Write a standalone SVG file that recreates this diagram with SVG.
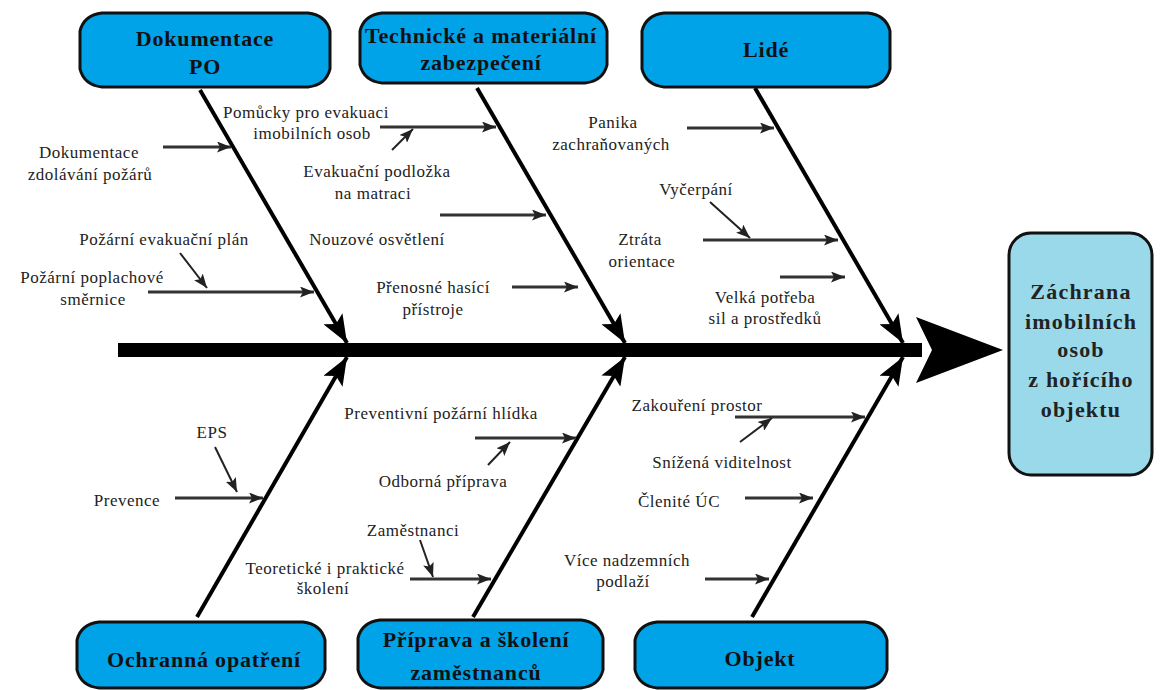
<svg xmlns="http://www.w3.org/2000/svg" width="1160" height="690" viewBox="0 0 1160 690" font-family="Liberation Serif, serif">
<defs>
<style>
.box{fill:#00a2e8;stroke:#111;stroke-width:3;stroke-linejoin:round}
.goal{fill:#99d9ea;stroke:#111;stroke-width:3}
.bt{font-weight:bold;font-size:22px;fill:#111;text-anchor:middle;letter-spacing:0.8px}
.gt{font-weight:bold;font-size:22px;fill:#222;text-anchor:middle;letter-spacing:1.2px}
.lt{font-size:17px;fill:#222;text-anchor:middle;letter-spacing:0.5px}
.bone{stroke:#000;stroke-width:4;fill:none;marker-end:url(#big)}
.sub{stroke:#333;stroke-width:3;fill:none;marker-end:url(#small)}
.tiny{stroke:#222;stroke-width:2;fill:none;marker-end:url(#small)}
</style>
<marker id="big" markerUnits="userSpaceOnUse" markerWidth="30" markerHeight="22" refX="28" refY="11" orient="auto">
<path d="M0,0 L28,11 L0,22 L6,11 Z" fill="#000"/>
</marker>
<marker id="small" markerUnits="userSpaceOnUse" markerWidth="15" markerHeight="11" refX="14" refY="5.5" orient="auto">
<path d="M0,0 L14,5.5 L0,11 L3,5.5 Z" fill="#222"/>
</marker>
</defs>
<rect width="1160" height="690" fill="#fff"/>

<g id="connectors">
<line x1="118" y1="350" x2="922" y2="350" stroke="#000" stroke-width="14"/>
<polygon points="916,317 1003,350 916,383 932,350" fill="#000"/>
<line class="bone" x1="200" y1="90" x2="347" y2="343"/>
<line class="bone" x1="477" y1="88" x2="625" y2="343"/>
<line class="bone" x1="755" y1="88" x2="903" y2="343"/>
<line class="bone" x1="197" y1="617" x2="347" y2="357"/>
<line class="bone" x1="473" y1="617" x2="625" y2="357"/>
<line class="bone" x1="752" y1="617" x2="903" y2="357"/>
<line class="sub" x1="163" y1="147" x2="231" y2="147"/>
<line class="sub" x1="380" y1="127" x2="496" y2="127"/>
<line class="tiny" x1="392" y1="150" x2="413" y2="129"/>
<line class="sub" x1="440" y1="215" x2="546" y2="215"/>
<line class="sub" x1="512" y1="287" x2="578" y2="287"/>
<line class="tiny" x1="180" y1="253" x2="207" y2="288"/>
<line class="sub" x1="148" y1="292" x2="314" y2="292"/>
<line class="sub" x1="687" y1="128" x2="774" y2="128"/>
<line class="tiny" x1="710" y1="202" x2="750" y2="238"/>
<line class="sub" x1="703" y1="240" x2="838" y2="240"/>
<line class="sub" x1="780" y1="277" x2="845" y2="277"/>
<line class="tiny" x1="215" y1="447" x2="237" y2="492"/>
<line class="sub" x1="175" y1="498" x2="263" y2="498"/>
<line class="sub" x1="475" y1="438" x2="576" y2="438"/>
<line class="tiny" x1="488" y1="465" x2="510" y2="442"/>
<line class="tiny" x1="420" y1="540" x2="433" y2="577"/>
<line class="sub" x1="410" y1="579" x2="491" y2="579"/>
<line class="sub" x1="735" y1="417" x2="865" y2="417"/>
<line class="tiny" x1="740" y1="442" x2="772" y2="418"/>
<line class="sub" x1="745" y1="498" x2="813" y2="498"/>
<line class="sub" x1="705" y1="579" x2="769" y2="579"/>
</g>

<g id="box-dokumentace">
<path class="box" d="M102,13 H308 Q326,15 330,31 V69 Q326,85 308,87 H102 Q84,85 80,69 V31 Q84,15 102,13 Z"/>
<text class="bt" x="205" y="46">Dokumentace</text>
<text class="bt" x="205" y="74">PO</text>
</g>
<g id="box-technicke">
<path class="box" d="M382,13 H585 Q603,15 607,31 V65 Q603,81 585,83 H382 Q364,81 360,65 V31 Q364,15 382,13 Z"/>
<text class="bt" x="481" y="43" letter-spacing="0">Technické a materiální</text>
<text class="bt" x="481" y="70">zabezpečení</text>
</g>
<g id="box-lide">
<path class="box" d="M664,13 H868 Q886,15 890,31 V69 Q886,85 868,87 H664 Q646,85 642,69 V31 Q646,15 664,13 Z"/>
<text class="bt" x="766" y="57">Lidé</text>
</g>
<g id="box-ochranna">
<path class="box" d="M99,622 H303 Q321,624 325,640 V670 Q321,686 303,688 H99 Q81,686 77,670 V640 Q81,624 99,622 Z"/>
<text class="bt" x="204" y="667" font-size="24">Ochranná opatření</text>
</g>
<g id="box-priprava">
<path class="box" d="M380,620 H581 Q599,622 603,638 V670 Q599,686 581,688 H380 Q362,686 358,670 V638 Q362,622 380,620 Z"/>
<text class="bt" x="476" y="647" font-size="23">Příprava a školení</text>
<text class="bt" x="476" y="680" font-size="23">zaměstnanců</text>
</g>
<g id="box-objekt">
<path class="box" d="M657,622 H865 Q883,624 887,640 V670 Q883,686 865,688 H657 Q639,686 635,670 V640 Q639,624 657,622 Z"/>
<text class="bt" x="760" y="666" font-size="23">Objekt</text>
</g>
<g id="box-zachrana">
<rect class="goal" x="1009" y="233" width="143" height="242" rx="22" ry="22"/>
<text class="gt" x="1081" y="299">Záchrana</text>
<text class="gt" x="1081" y="329">imobilních</text>
<text class="gt" x="1081" y="357">osob</text>
<text class="gt" x="1081" y="387">z hořícího</text>
<text class="gt" x="1081" y="417">objektu</text>
</g>

<g id="label-dokumentace-zdolavani">
<text class="lt" x="89" y="158">Dokumentace</text>
<text class="lt" x="90" y="180">zdolávání požárů</text>
</g>
<g id="label-pomucky">
<text class="lt" x="306" y="118">Pomůcky pro evakuaci</text>
<text class="lt" x="312" y="139">imobilních osob</text>
</g>
<g id="label-podlozka">
<text class="lt" x="377" y="177">Evakuační podložka</text>
<text class="lt" x="373" y="199">na matraci</text>
</g>
<g id="label-nouzove">
<text class="lt" x="377" y="245">Nouzové osvětlení</text>
</g>
<g id="label-evakuacni-plan">
<text class="lt" x="164" y="245">Požární evakuační plán</text>
</g>
<g id="label-poplachove">
<text class="lt" x="92" y="283">Požární poplachové</text>
<text class="lt" x="93" y="305">směrnice</text>
</g>
<g id="label-hasici">
<text class="lt" x="433" y="293">Přenosné hasící</text>
<text class="lt" x="433" y="315">přístroje</text>
</g>
<g id="label-panika">
<text class="lt" x="613" y="128">Panika</text>
<text class="lt" x="611" y="150">zachraňovaných</text>
</g>
<g id="label-vycerpani">
<text class="lt" x="696" y="195">Vyčerpání</text>
</g>
<g id="label-ztrata">
<text class="lt" x="640" y="245">Ztráta</text>
<text class="lt" x="642" y="267">orientace</text>
</g>
<g id="label-velka-potreba">
<text class="lt" x="765" y="303">Velká potřeba</text>
<text class="lt" x="765" y="324">sil a prostředků</text>
</g>
<g id="label-eps">
<text class="lt" x="212" y="438">EPS</text>
</g>
<g id="label-prevence">
<text class="lt" x="127" y="506">Prevence</text>
</g>
<g id="label-teoreticke">
<text class="lt" x="325" y="574">Teoretické i praktické</text>
<text class="lt" x="323" y="594">školení</text>
</g>
<g id="label-hlidka">
<text class="lt" x="441" y="419">Preventivní požární hlídka</text>
</g>
<g id="label-odborna">
<text class="lt" x="443" y="487">Odborná příprava</text>
</g>
<g id="label-zamestnanci">
<text class="lt" x="413" y="536">Zaměstnanci</text>
</g>
<g id="label-vice-podlazi">
<text class="lt" x="627" y="566">Více nadzemních</text>
<text class="lt" x="623" y="587">podlaží</text>
</g>
<g id="label-zakoureni">
<text class="lt" x="697" y="411">Zakouření prostor</text>
</g>
<g id="label-snizena">
<text class="lt" x="722" y="468">Snížená viditelnost</text>
</g>
<g id="label-clenite">
<text class="lt" x="679" y="507">Členité ÚC</text>
</g>
</svg>
